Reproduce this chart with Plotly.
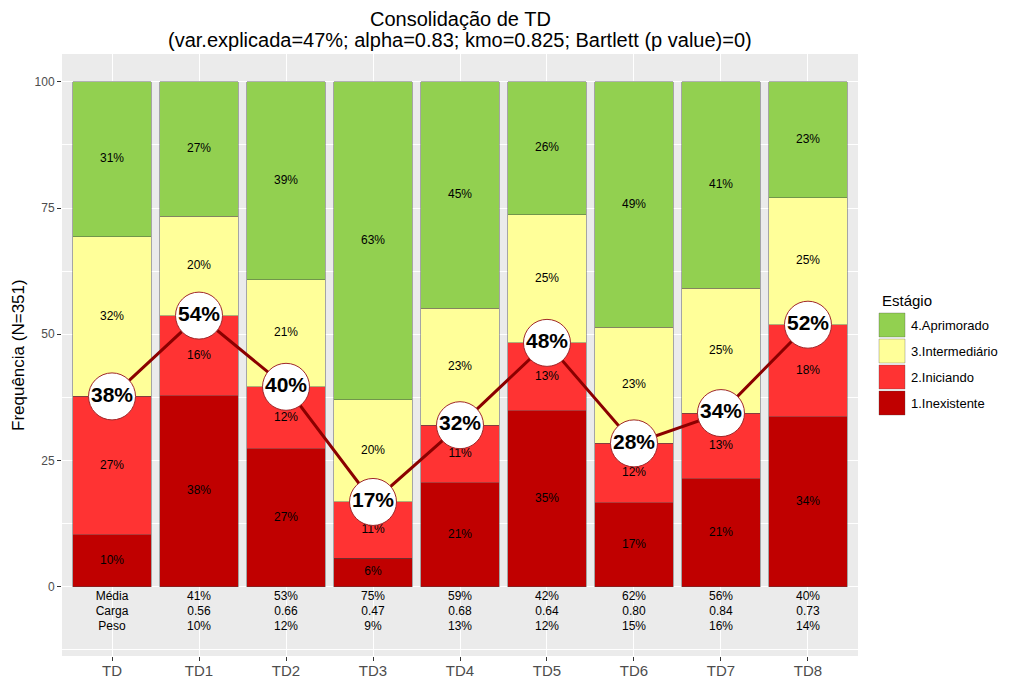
import plotly.graph_objects as go

categories = ["TD", "TD1", "TD2", "TD3", "TD4", "TD5", "TD6", "TD7", "TD8"]
inexistente = [10.3, 37.8, 27.3, 5.7, 20.6, 34.9, 16.6, 21.4, 33.7]
iniciando = [27.4, 15.9, 12.3, 11.1, 11.4, 13.4, 11.8, 13.0, 18.2]
intermediario = [31.6, 19.7, 21.2, 20.2, 23.2, 25.4, 23.0, 24.7, 25.1]
aprimorado = [30.7, 26.6, 39.2, 63.0, 44.8, 26.3, 48.6, 40.9, 23.0]

media = ["Média", "41%", "53%", "75%", "59%", "42%", "62%", "56%", "40%"]
carga = ["Carga", "0.56", "0.66", "0.47", "0.68", "0.64", "0.80", "0.84", "0.73"]
peso = ["Peso", "10%", "12%", "9%", "13%", "12%", "15%", "16%", "14%"]
table_rows_y = [-2, -5, -8]

title_line1 = "Consolidação de TD"
title_line2 = "(var.explicada=47%; alpha=0.83; kmo=0.825; Bartlett (p value)=0)"

series = [
    ("1.Inexistente", inexistente, "#C00000"),
    ("2.Iniciando", iniciando, "#FF3333"),
    ("3.Intermediário", intermediario, "#FFFF99"),
    ("4.Aprimorado", aprimorado, "#92D050"),
]

FONT = "Liberation Sans, Arial, sans-serif"
fig = go.Figure()

base = [0.0] * len(categories)
mid_x, mid_y, mid_t = [], [], []
for name, vals, col in series:
    fig.add_trace(go.Bar(
        x=categories, y=vals, name=name, marker_color=col,
        marker_line=dict(color="rgba(70,70,70,0.7)", width=0.6),
        showlegend=False, hoverinfo="skip"))
    for i, v in enumerate(vals):
        mid_x.append(categories[i])
        mid_y.append(base[i] + v / 2)
        mid_t.append(f"{v:.0f}%")
        base[i] += v

fig.add_trace(go.Scatter(
    x=mid_x, y=mid_y, text=mid_t, mode="text",
    textfont=dict(size=12, color="black", family=FONT),
    showlegend=False, hoverinfo="skip"))

cum = [a + b for a, b in zip(inexistente, iniciando)]
fig.add_trace(go.Scatter(
    x=categories, y=cum, text=[f"{c:.0f}%" for c in cum],
    mode="lines+markers+text", textposition="middle center",
    line=dict(color="#8B0000", width=3),
    marker=dict(size=47, color="white", line=dict(color="#A0282A", width=1)),
    textfont=dict(size=21, color="black", family=FONT, weight="bold"),
    showlegend=False, hoverinfo="skip"))

for row, yv in zip([media, carga, peso], table_rows_y):
    fig.add_trace(go.Scatter(
        x=categories, y=[yv] * len(categories), text=row, mode="text",
        textfont=dict(size=12, color="black", family=FONT),
        showlegend=False, hoverinfo="skip"))

# page body has an 8px margin; figure coordinates are page coordinates minus 8
OFF = 8
W, H = 1008, 674
L, T, R, B = 62 - OFF, 54 - OFF, 858 - OFF, 656 - OFF
pw, ph = R - L, B - T
def px(x):
    return (x - OFF - L) / pw
def py(y):
    return (B - (y - OFF)) / ph

shapes = []
annotations = []
annotations.append(dict(text=title_line1, x=px(460), y=py(19), xref="paper", yref="paper",
                        xanchor="center", yanchor="middle", showarrow=False,
                        font=dict(size=20, color="black", family=FONT)))
annotations.append(dict(text=title_line2, x=px(460), y=py(40), xref="paper", yref="paper",
                        xanchor="center", yanchor="middle", showarrow=False,
                        font=dict(size=20, color="black", family=FONT)))
annotations.append(dict(text="Estágio", x=px(880), y=py(300), xref="paper", yref="paper",
                        xanchor="left", yanchor="middle", showarrow=False,
                        font=dict(size=15, color="black", family=FONT)))
legend_items = list(reversed(series))
for k, (name, vals, col) in enumerate(legend_items):
    y0 = 312 + 26 * k
    shapes.append(dict(type="rect", xref="paper", yref="paper",
                       x0=px(879), x1=px(905), y0=py(y0 + 25), y1=py(y0 + 1),
                       fillcolor=col, line=dict(color="rgba(70,70,70,0.5)", width=0.6)))
    annotations.append(dict(text=name, x=px(909), y=py(y0 + 13), xref="paper", yref="paper",
                            xanchor="left", yanchor="middle", showarrow=False,
                            font=dict(size=13, color="black", family=FONT)))
annotations.append(dict(text="Frequência (N=351)", x=px(18), y=py(355), xref="paper", yref="paper",
                        xanchor="center", yanchor="middle", showarrow=False, textangle=-90,
                        font=dict(size=17, color="black", family=FONT)))

fig.update_layout(
    width=W, height=H,
    barmode="stack", bargap=0.1,
    margin=dict(l=L, r=W - R, t=T, b=H - B, autoexpand=False),
    paper_bgcolor="white", plot_bgcolor="#EBEBEB",
    font=dict(family=FONT, color="black"),
    shapes=shapes, annotations=annotations,
    xaxis=dict(range=[-0.575, 8.575], showgrid=True, gridcolor="white", gridwidth=1.2,
               ticks="outside", ticklen=4, tickcolor="#333333", tickwidth=1,
               tickfont=dict(size=15, color="#4D4D4D", family=FONT), ticklabelstandoff=-3,
               zeroline=False, showline=False, fixedrange=True, automargin=False),
    yaxis=dict(range=[-13.7, 105.5], tickvals=[0, 25, 50, 75, 100],
               showgrid=True, gridcolor="white", gridwidth=1.2,
               minor=dict(dtick=12.5, tick0=0, showgrid=True, gridcolor="white", gridwidth=0.5),
               ticks="outside", ticklen=4, tickcolor="#333333", tickwidth=1,
               tickfont=dict(size=12, color="#4D4D4D", family=FONT),
               zeroline=False, showline=False, automargin=False),
)

fig.write_html("out.html")
